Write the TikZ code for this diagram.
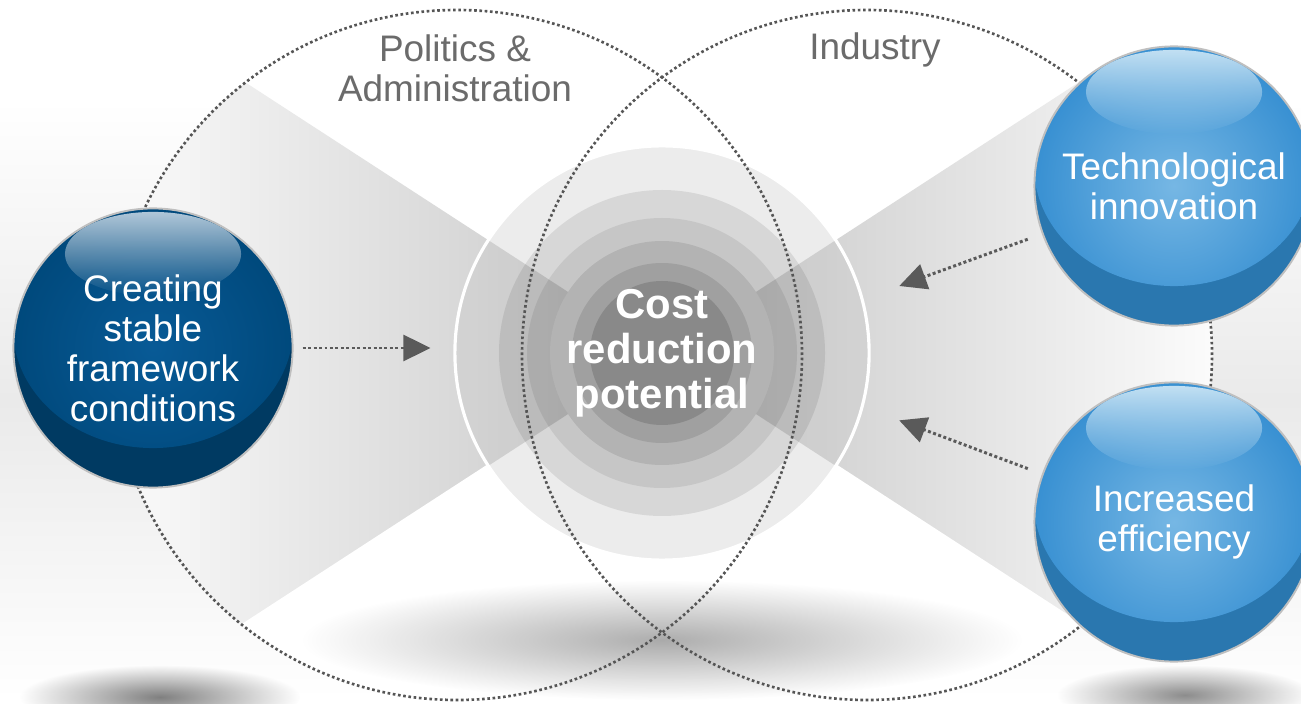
\documentclass[tikz,border=0pt]{standalone}
\usepackage{fontspec}
\setmainfont{Liberation Sans}
\usepackage{xcolor}
\usetikzlibrary{arrows.meta,calc,fadings}
\definecolor{dotgray}{HTML}{555555}
\definecolor{labelgray}{HTML}{6B6B6B}
\definecolor{arrowgray}{HTML}{5A5A5A}
\definecolor{bandgray}{HTML}{C4C4C4}
\definecolor{backgray}{HTML}{EAEAEA}
\definecolor{navydark}{HTML}{003A62}
\definecolor{navymid}{HTML}{00497C}
\definecolor{navylight}{HTML}{085A96}
\definecolor{navygloss}{HTML}{B0C7D9}
\definecolor{bluedark}{HTML}{2A77AF}
\definecolor{bluemid}{HTML}{3890D2}
\definecolor{bluelight}{HTML}{76B7E4}
\definecolor{bluegloss}{HTML}{C2E0F3}
\tikzfading[name=glossfade, top color=transparent!0, bottom color=transparent!100]
\tikzfading[name=softblob, inner color=transparent!0, outer color=transparent!100]

\begin{document}
\begin{tikzpicture}[
                 x=0.01cm, y=0.01cm,
                 zoneline/.style={draw=dotgray, line width=0.75pt, dash pattern=on 0.75pt off 0.75pt},
                 zonelabel/.style={text=labelgray, align=center, font=\fontsize{10.5}{11.4}\selectfont},
                 bandedge/.style={draw=white, line width=0.9pt},
                 shadowblob/.style={fill=black, fill opacity=#1, path fading=softblob},
                 hubnode/.style={circle, minimum size=4.14cm, inner sep=0pt, draw=white, line width=0.9pt,
                   text=white, align=center, font=\bfseries\fontsize{11.9}{12.8}\selectfont},
                 ball/.style n args={4}{circle, minimum size=2.79cm, inner sep=0pt, fill=#1,
                   draw=gray!50, line width=0.55pt, text=white, align=center,
                   font=\fontsize{10.5}{11.4}\selectfont,
                   path picture={
                     \shade[inner color=#3, outer color=#2] ([yshift=0.2cm]path picture bounding box.center) ellipse (1.40cm and 1.2cm);
                     \fill[#4, path fading=glossfade] ([yshift=0.94cm]path picture bounding box.center) ellipse (0.88cm and 0.42cm);
                   }},
                 flow/.style={draw=arrowgray, line width=0.85pt, dash pattern=on 0.85pt off 0.7pt,
                   -{Triangle[length=7.7pt, width=7.4pt]}}
                 ]
\useasboundingbox (0,0) rectangle (1301,-704);
\fill[white] (0,0) rectangle (1301,-704);
\shade[top color=white, bottom color=white, middle color=backgray] (0,-100) rectangle (1301,-700);
\coordinate (hub) at (662,-353);

\begin{scope}
\clip (457,-355) circle (345) (867,-355) circle (345);
\fill[white] (0,0) rectangle (1301,-704);
\shade[left color=white, right color=bandgray] (hub) -- ($(hub)+(147:700)$) -- ($(hub)+(213:700)$) -- cycle;
\shade[left color=bandgray, right color=white] (hub) -- ($(hub)+(33:700)$) -- ($(hub)+(-33:700)$) -- cycle;
\draw[bandedge] ($(hub)+(213:207)$) -- ($(hub)+(213:700)$);
\draw[bandedge] ($(hub)+(-33:207)$) -- ($(hub)+(-33:700)$);
\end{scope}

\fill[shadowblob=0.32] (662,-640) ellipse (360 and 60);
\fill[shadowblob=0.5] (160,-697) ellipse (140 and 32);
\fill[shadowblob=0.45] (1185,-695) ellipse (128 and 30);

\fill[white, fill opacity=0.3] (hub) circle (206);
\fill[white] (hub) circle (112);
\foreach \r/\o in {206/0.075, 163/0.085, 135/0.08, 112/0.095, 90/0.105, 72/0.14}
  \fill[black, fill opacity=\o] (hub) circle (\r);
\node[hubnode] (ctr) at (hub) {Cost\\reduction\\potential};

\draw[zoneline] (457,-355) circle (345);
\draw[zoneline] (867,-355) circle (345);
\node[zonelabel] (pol) at (455,-68) {Politics \&\\Administration};
\node[zonelabel] (ind) at (875,-50) {Industry};

\node[ball={navydark}{navymid}{navylight}{navygloss}] (fw) at (153,-348) {Creating\\stable\\framework\\conditions};
\node[ball={bluedark}{bluemid}{bluelight}{bluegloss}] (tech) at (1174,-186) {Technological\\innovation};
\node[ball={bluedark}{bluemid}{bluelight}{bluegloss}] (eff) at (1174,-522) {Increased\\efficiency};

\path (fw.east) edge[flow, shorten <=2.6pt, shorten >=6.5pt] (fw.east -| ctr.west);
\path (tech.200) edge[flow, shorten <=4.3pt, shorten >=10.8pt] (ctr.15);
\path (eff.160) edge[flow, shorten <=4.3pt, shorten >=10.8pt] (ctr.-15);
\end{tikzpicture}
\end{document}
